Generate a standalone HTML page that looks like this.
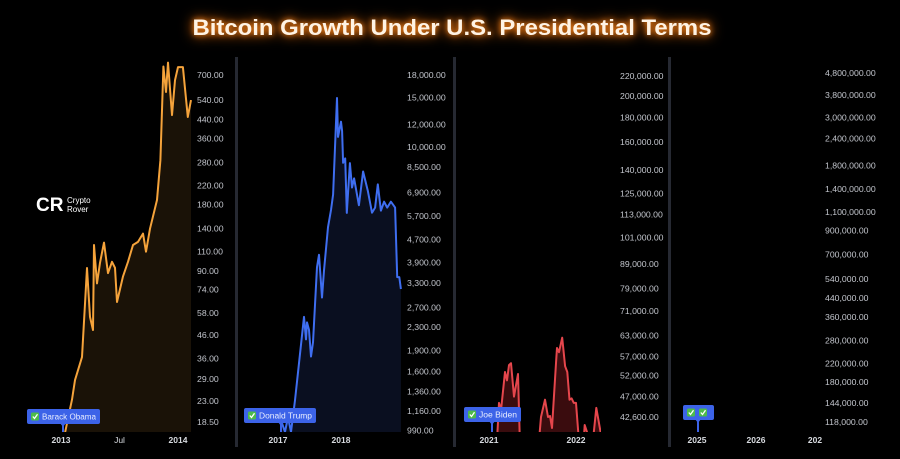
<!DOCTYPE html>
<html><head><meta charset="utf-8">
<style>
html,body{margin:0;padding:0;background:#000;width:900px;height:459px;overflow:hidden}
svg{display:block;font-family:"Liberation Sans",sans-serif;overflow:hidden;position:absolute;left:0;top:0}
</style></head>
<body>
<svg id="chart" width="900" height="459" viewBox="0 0 900 459">
<rect x="0" y="0" width="900" height="459" fill="#000"/>
<text x="452" y="35" text-anchor="middle" font-size="22" font-weight="bold" fill="#fff3e4" textLength="519" lengthAdjust="spacingAndGlyphs" style="filter:drop-shadow(0 0 3px #ff8a1e) drop-shadow(0 0 6px #c85a00)">Bitcoin Growth Under U.S. Presidential Terms</text>
<g>
<rect x="235" y="57" width="3" height="390" fill="#262932"/>
<rect x="453" y="57" width="3" height="390" fill="#262932"/>
<rect x="668" y="57" width="3" height="390" fill="#262932"/>
</g>
<g>
<text x="36" y="211" font-size="19" font-weight="bold" fill="#fff">CR</text>
<text x="67" y="203" font-size="8" fill="#fff">Crypto</text>
<text x="67" y="212" font-size="8" fill="#fff">Rover</text>
</g>
<g id="layer"></g>
</svg>
<script>
// Obama panel
const obamaMonths = [0.41,1.13,1.44,2.15,2.67,2.97,3.28,3.38,3.69,4.0,4.41,4.82,5.23,5.54,5.74,6.36,6.87,7.38,7.90,8.41,8.72,9.13,9.85,10.2,10.5,10.77,10.97,11.38,11.69,12.0,12.5,13.0,13.33];
const obamaPrices = [16.5,23.4,28.7,36.5,92.8,55.6,48.5,118,79,98,121,88,99,93,65,85,99,118,122,133,110,140,189,287,765,586,797,460,663,760,760,451,538];
const obamaTicks = [700,540,440,360,280,220,180,140,110,90,74,58,46,36,29,23,18.5];
const obamaTickLabels = ["700.00","540.00","440.00","360.00","280.00","220.00","180.00","140.00","110.00","90.00","74.00","58.00","46.00","36.00","29.00","23.00","18.50"];
const obamaXTicks = [0,6,12];
const obamaXLabels = ["2013","Jul","2014"];
// Trump panel
const trumpMonths = [0.76,1.33,1.90,2.48,3.24,4.95,5.33,5.52,5.90,6.29,6.67,7.43,7.81,8.38,8.76,9.52,10.1,10.5,11.24,11.43,12.0,12.2,12.4,12.8,13.1,13.7,14.1,14.5,15.4,16.2,17.1,17.9,18.5,19.0,19.6,20.2,20.8,21.5,21.9,22.3,22.7,23.1,23.4];
const trumpPrices = [1050,977,1105,977,1267,2500,2080,2390,2250,1810,2030,3755,4150,2930,3650,5200,5980,6790,14920,10860,12300,11400,8790,9110,5840,8770,7190,7740,6220,8190,7000,5850,6100,7370,5950,6400,6100,6400,6250,6100,3460,3460,3140];
const trumpTicks = [18000,15000,12000,10000,8500,6900,5700,4700,3900,3300,2700,2300,1900,1600,1360,1160,990];
const trumpTickLabels = ["18,000.00","15,000.00","12,000.00","10,000.00","8,500.00","6,900.00","5,700.00","4,700.00","3,900.00","3,300.00","2,700.00","2,300.00","1,900.00","1,600.00","1,360.00","1,160.00","990.00"];
const trumpXTicks = [0,12];
const trumpXLabels = ["2017","2018"];
// Biden panel
const bidenMonths = [1.10,1.38,1.66,2.21,2.48,2.76,3.03,3.45,4.0,4.28,5.24,6.90,7.17,7.72,8.14,8.41,8.69,9.24,9.38,9.66,10.1,10.5,10.8,11.1,11.4,11.7,12.0,12.4,12.8,13.2,13.9,14.1,14.8,15.6,16.0];
const bidenPrices = [38000,45600,44000,52900,50800,54700,55200,47000,52400,37000,30000,38000,42600,46300,42600,42800,40400,55200,59400,58200,62400,54400,52900,46300,46600,45600,45600,38000,33000,41000,38000,35000,44500,38000,30000];
const bidenTicks = [220000,200000,180000,160000,140000,125000,113000,101000,89000,79000,71000,63000,57000,52000,47000,42600];
const bidenTickLabels = ["220,000.00","200,000.00","180,000.00","160,000.00","140,000.00","125,000.00","113,000.00","101,000.00","89,000.00","79,000.00","71,000.00","63,000.00","57,000.00","52,000.00","47,000.00","42,600.00"];
const bidenXTicks = [0,12];
const bidenXLabels = ["2021","2022"];
// Second Trump panel (no data yet)
const trump2Ticks = [4800000,3800000,3000000,2400000,1800000,1400000,1100000,900000,700000,540000,440000,360000,280000,220000,180000,144000,118000];
const trump2TickLabels = ["4,800,000.00","3,800,000.00","3,000,000.00","2,400,000.00","1,800,000.00","1,400,000.00","1,100,000.00","900,000.00","700,000.00","540,000.00","440,000.00","360,000.00","280,000.00","220,000.00","180,000.00","144,000.00","118,000.00"];
const trump2XTicks = [0,12,24];
const trump2XLabels = ["2025","2026","202"];

const NS="http://www.w3.org/2000/svg";
const layer=document.getElementById('layer');
function mk(tag,attrs,parent){const e=document.createElementNS(NS,tag);for(const k in attrs)e.setAttribute(k,attrs[k]);(parent||layer).appendChild(e);return e;}

const panels=[
 {key:'obama',months:obamaMonths,prices:obamaPrices,ticks:obamaTicks,labels:obamaTickLabels,xt:obamaXTicks,xl:obamaXLabels,
  left:20,right:193,x0:61,pxPerMonth:117/12,topVal:700,topY:75,botVal:18.5,botY:422,labelX:197,
  color:'#f5a33b',fill:'#1a1207',tag:'Barack Obama',tagX:27,tagW:73,tagY:409,pin:63},
 {key:'trump',months:trumpMonths,prices:trumpPrices,ticks:trumpTicks,labels:trumpTickLabels,xt:trumpXTicks,xl:trumpXLabels,
  left:240,right:404,x0:278,pxPerMonth:63/12,topVal:18000,topY:75,botVal:1160,botY:411,labelX:407,
  color:'#3f6ef0',fill:'#0a0f20',tag:'Donald Trump',tagX:244,tagW:72,tagY:408,pin:281},
 {key:'biden',months:bidenMonths,prices:bidenPrices,ticks:bidenTicks,labels:bidenTickLabels,xt:bidenXTicks,xl:bidenXLabels,
  left:457,right:601,x0:489,pxPerMonth:87/12,topVal:220000,topY:76,botVal:42600,botY:417,labelX:620,
  color:'#e5464c',fill:'#3a0c0e',tag:'Joe Biden',tagX:464,tagW:57,tagY:407,pin:492},
 {key:'trump2',months:[],prices:[],ticks:trump2Ticks,labels:trump2TickLabels,xt:trump2XTicks,xl:trump2XLabels,
  left:672,right:820,x0:697,pxPerMonth:59/12,topVal:4800000,topY:73,botVal:118000,botY:422,labelX:825,
  color:'#3f6ef0',fill:'none',tag:'',tagX:683,tagW:31,tagY:405,pin:698}
];
const PLOT_BOTTOM=432;

panels.forEach((p,pi)=>{
  const yScale=v=>p.topY+(Math.log(p.topVal/v))*(p.botY-p.topY)/Math.log(p.topVal/p.botVal);
  const xScale=m=>p.x0+m*p.pxPerMonth;
  const g=mk('g',{});
  
  
  p.ticks.forEach((t,i)=>{
    const tx=mk('text',{x:p.labelX,y:yScale(t)+3,'font-size':'8.7',fill:'#c2c5cc'},g);
    
    
    tx.textContent=p.labels[i];
  });
  p.xt.forEach((m,i)=>{
    const tx=mk('text',{x:xScale(m),y:443,'font-size':'8.5','font-weight':p.xl[i]==='Jul'?'normal':'bold','text-anchor':'middle',fill:'#d8dbe0'},g);
    
    
    tx.textContent=p.xl[i];
  });
  if(p.months.length){
    const cid='clip'+pi;
    const cp=mk('clipPath',{id:cid},g);
    mk('rect',{x:p.left,y:50,width:p.right-p.left,height:PLOT_BOTTOM-50},cp);
    const pts=p.months.map((m,i)=>[xScale(m),yScale(p.prices[i])]);
    const d=pts.map((q,i)=>(i?'L':'M')+q[0].toFixed(1)+','+q[1].toFixed(1)).join(' ');
    const area=mk('path',{d:d+` L${pts[pts.length-1][0].toFixed(1)},${PLOT_BOTTOM} L${pts[0][0].toFixed(1)},${PLOT_BOTTOM} Z`,fill:p.fill,'clip-path':`url(#${cid})`},g);
    
    
    const line=mk('path',{d:d,fill:'none',stroke:p.color,'stroke-width':'2','stroke-linejoin':'round','clip-path':`url(#${cid})`},g);
    
    
  }
  const tg=mk('g',{},g);
  
  
  mk('rect',{x:p.pin-1,y:p.tagY+10,width:2,height:PLOT_BOTTOM-p.tagY-10,fill:'#3c63e8'},tg);
  mk('path',{d:`M${p.pin-3},${p.tagY+14} L${p.pin+3},${p.tagY+14} L${p.pin},${p.tagY+18} Z`,fill:'#3c63e8'},tg);
  mk('rect',{x:p.tagX,y:p.tagY,width:p.tagW,height:15,rx:2,fill:'#3c63e8'},tg);
  const nChecks=p.tag?1:2;
  for(let k=0;k<nChecks;k++){
    const cx=p.tagX+4+k*12;
    mk('rect',{x:cx,y:p.tagY+3.5,width:8,height:8,rx:1.5,fill:'#4dbb4a'},tg);
    mk('path',{d:`M${cx+1.8},${p.tagY+7.5} L${cx+3.5},${p.tagY+9.5} L${cx+6.5},${p.tagY+5.3}`,fill:'none',stroke:'#fff','stroke-width':'1.3'},tg);
  }
  if(p.tag){
    const tt=mk('text',{x:p.tagX+15,y:p.tagY+10.5,'font-size':'8','textLength':p.tagW-19,'lengthAdjust':'spacingAndGlyphs',fill:'#e8edff'},tg);
    
    
    tt.textContent=p.tag;
  }
});
</script>
</body></html>
